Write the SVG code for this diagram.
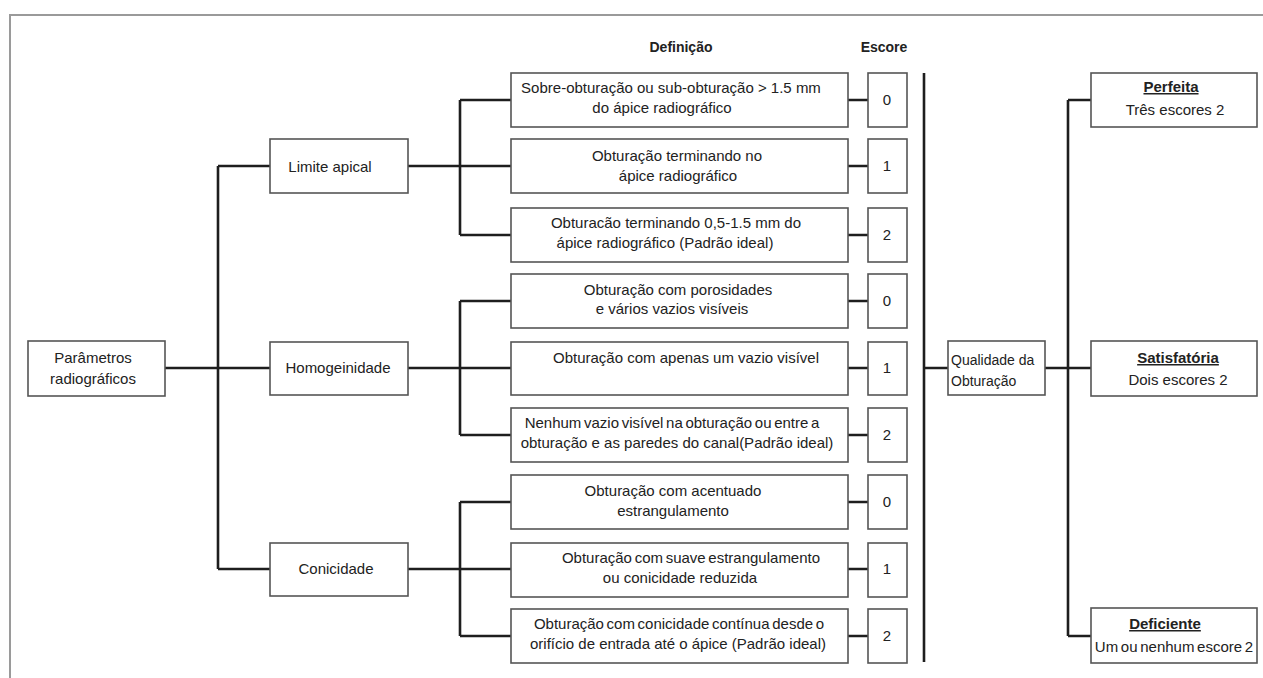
<svg xmlns="http://www.w3.org/2000/svg" width="1263" height="678" viewBox="0 0 1263 678">
<style>
.box{fill:#fff;stroke:#555;stroke-width:1.6}
.ln{fill:none;stroke:#1e1e1e;stroke-width:2.6}
.fr{fill:none;stroke:#9a9a9a;stroke-width:2}
text{font-family:"Liberation Sans",Arial,sans-serif;font-size:15px;fill:#222;text-anchor:middle}
.hd{font-weight:bold;font-size:14px}
.u{font-weight:bold;text-decoration:underline}
.tight{word-spacing:-1.5px}
</style>
<rect width="1263" height="678" fill="#fff"/>
<path class="fr" d="M10,678 V15 H1263"/>
<text class="hd" x="681" y="52">Definição</text>
<text class="hd" x="884" y="52">Escore</text>

<g id="connectors">
<path class="ln" d="M165,368 H270 M218,166 V569 M218,166 H270 M218,569 H270"/>
<path class="ln" d="M408,166 H511 M460,100 V235 M460,100 H511 M460,235 H511"/>
<path class="ln" d="M408,368 H511 M460,301 V435 M460,301 H511 M460,435 H511"/>
<path class="ln" d="M408,569 H511 M460,502 V636 M460,502 H511 M460,636 H511"/>
<path class="ln" d="M848,100 H868 M848,166 H868 M848,235 H868 M848,301 H868 M848,368 H868 M848,435 H868 M848,502 H868 M848,569 H868 M848,636 H868"/>
<path class="ln" d="M924,73 V662 M924,368 H948"/>
<path class="ln" d="M1045,368 H1091 M1068,100 V636 M1068,100 H1091 M1068,636 H1091"/>
</g>

<g id="parametros"><rect class="box" x="28" y="341" width="137" height="55"/><text x="93" y="363">Parâmetros</text><text x="93" y="384">radiográficos</text></g>
<g id="limite"><rect class="box" x="270" y="139" width="138" height="54"/><text x="330" y="172">Limite apical</text></g>
<g id="homog"><rect class="box" x="270" y="342" width="138" height="53"/><text x="338" y="373">Homogeinidade</text></g>
<g id="conic"><rect class="box" x="270" y="543" width="138" height="53"/><text x="336" y="574">Conicidade</text></g>

<g id="d1"><rect class="box" x="511" y="73" width="337" height="54"/><text x="671" y="93">Sobre-obturação ou sub-obturação  &gt; 1.5 mm</text><text x="662" y="113">do ápice radiográfico</text></g>
<g id="d2"><rect class="box" x="511" y="139" width="337" height="54"/><text x="677" y="161">Obturação terminando no</text><text x="678" y="181">ápice radiográfico</text></g>
<g id="d3"><rect class="box" x="511" y="208" width="337" height="54"/><text x="676" y="228">Obturacão terminando 0,5-1.5 mm do</text><text x="665" y="248">ápice radiográfico (Padrão ideal)</text></g>
<g id="d4"><rect class="box" x="511" y="274" width="337" height="54"/><text x="678" y="295">Obturação com porosidades</text><text x="672" y="314">e vários vazios visíveis</text></g>
<g id="d5"><rect class="box" x="511" y="342" width="337" height="53"/><text x="686" y="363">Obturação com apenas um vazio visível</text></g>
<g id="d6"><rect class="box" x="511" y="408" width="337" height="54"/><text x="672" y="428" class="tight">Nenhum vazio visível na obturação ou entre a</text><text x="677" y="448">obturação e as paredes do canal(Padrão ideal)</text></g>
<g id="d7"><rect class="box" x="511" y="475" width="337" height="54"/><text x="673" y="496">Obturação com acentuado</text><text x="673" y="516">estrangulamento</text></g>
<g id="d8"><rect class="box" x="511" y="543" width="337" height="54"/><text x="691" y="563" class="tight">Obturação com suave estrangulamento</text><text x="680" y="583">ou conicidade reduzida</text></g>
<g id="d9"><rect class="box" x="511" y="609" width="337" height="54"/><text x="679" y="629" class="tight">Obturação com conicidade contínua desde o</text><text x="678" y="649">orifício de entrada até o ápice (Padrão ideal)</text></g>

<g id="s1"><rect class="box" x="868" y="73" width="39" height="54"/><text x="887" y="105">0</text></g>
<g id="s2"><rect class="box" x="868" y="139" width="39" height="54"/><text x="887" y="171">1</text></g>
<g id="s3"><rect class="box" x="868" y="208" width="39" height="54"/><text x="887" y="240">2</text></g>
<g id="s4"><rect class="box" x="868" y="274" width="39" height="54"/><text x="887" y="306">0</text></g>
<g id="s5"><rect class="box" x="868" y="342" width="39" height="53"/><text x="887" y="373">1</text></g>
<g id="s6"><rect class="box" x="868" y="408" width="39" height="54"/><text x="887" y="440">2</text></g>
<g id="s7"><rect class="box" x="868" y="475" width="39" height="54"/><text x="887" y="507">0</text></g>
<g id="s8"><rect class="box" x="868" y="543" width="39" height="54"/><text x="887" y="574">1</text></g>
<g id="s9"><rect class="box" x="868" y="609" width="39" height="54"/><text x="887" y="641">2</text></g>

<g id="qualidade"><rect class="box" x="948" y="341" width="97" height="54"/><text x="951" y="365" style="text-anchor:start;font-size:14px">Qualidade da</text><text x="951" y="386" style="text-anchor:start;font-size:14px">Obturação</text></g>
<g id="perfeita"><rect class="box" x="1091" y="73" width="166" height="54"/><text class="u" x="1171" y="92">Perfeita</text><text x="1175" y="115">Três escores 2</text></g>
<g id="satisf"><rect class="box" x="1091" y="341" width="166" height="55"/><text class="u" x="1178" y="363">Satisfatória</text><text x="1178" y="385">Dois escores 2</text></g>
<g id="defic"><rect class="box" x="1091" y="608" width="166" height="55"/><text class="u" x="1165" y="629">Deficiente</text><text x="1174" y="652" class="tight">Um ou nenhum escore 2</text></g>
</svg>
